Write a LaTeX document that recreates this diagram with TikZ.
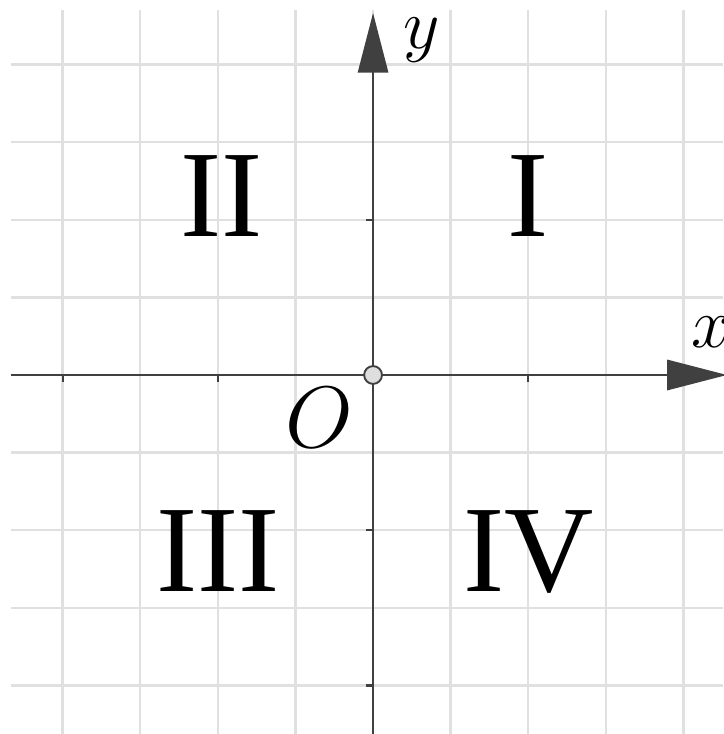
\RequirePackage{fix-cm}
\documentclass[tikz,border=0pt]{standalone}
\usepackage{amsmath}
\usepackage{fontspec}
\usepackage{tikz}
\usetikzlibrary{arrows.meta, positioning}
\newfontfamily\numfont{Liberation Serif}
\definecolor{cGrid}{RGB}{224,224,224}
\definecolor{cAxis}{RGB}{64,64,64}
\definecolor{cDot}{RGB}{222,222,222}
\tikzset{
	gridline/.style ={cGrid, line width=0.9pt},
	axisline/.style ={cAxis, line width=0.8pt, -{Triangle[length=7.7mm, width=3.9mm]}},
	tickmark/.style ={cAxis, line width=0.8pt},
	origindot/.style={circle, draw=cAxis, fill=cDot, line width=0.7pt, minimum size=0.23cm, inner sep=0pt},
	quadlabel/.style={font=\numfont\fontsize{45.3}{50}\selectfont, inner sep=0pt},
	axislabel/.style={font=\fontsize{26}{30}\selectfont, inner sep=0pt, anchor=base},
}

\begin{document}
\begin{tikzpicture}
	\useasboundingbox (-4.807,-4.626) rectangle (4.510,4.832);
	% grid
	\foreach \k in {-4,...,4} {
		\draw[gridline] (\k,-4.626) -- (\k,4.703);
		\draw[gridline] (-4.665,\k) -- (4.51,\k);
	}
	% axes
	\coordinate (xstart) at (-4.67,0);
	\coordinate (xend) at (4.56,0);
	\coordinate (ystart) at (0,-4.63);
	\coordinate (yend) at (0,4.665);
	\draw[axisline] (xstart) -- (xend);
	\draw[axisline] (ystart) -- (yend);
	\foreach \k in {-4,-2,2} {
		\draw[tickmark] (\k,0) -- (\k,-0.09);
	}
	\foreach \k in {-4,-2,2} {
		\draw[tickmark] (0,\k) -- (-0.09,\k);
	}
	\node[origindot] (origin) at (0,0) {};
	% labels
	\node[axislabel] (xlab) at (4.36,0.348) {$x$};
	\node[axislabel] (ylab) at (0.63,4.21) {$y$};
	\node[axislabel, font=\fontsize{32}{38}\selectfont] (olab) at (-0.69,-0.928) {$O$};
	\node[quadlabel] (qI) at (2.0,2.31) {I};
	\node[quadlabel] (qII) at (-1.95,2.31) {II};
	\node[quadlabel] (qIII) at (-2.0,-2.275) {III};
	\node[quadlabel] (qIV) at (2.0,-2.275) {IV};
\end{tikzpicture}
\end{document}
